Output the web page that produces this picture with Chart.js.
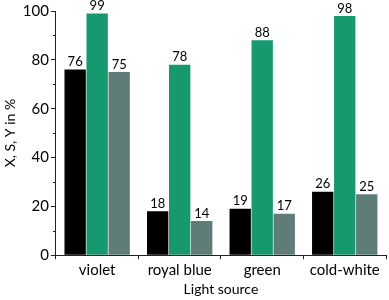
<!DOCTYPE html>
<html>
<head>
<meta charset="utf-8">
<script src="https://cdn.jsdelivr.net/npm/chart.js@4/dist/chart.umd.min.js"></script>
<style>
  html, body { margin: 0; padding: 0; background: #fff; }
  #wrap { width: 389px; height: 300px; }
</style>
</head>
<body>
<div id="wrap"><canvas id="myChart"></canvas></div>
<script>
const categories = ['violet', 'royal blue', 'green', 'cold-white'];
const valuesX = [76, 18, 19, 26];
const valuesS = [99, 78, 88, 98];
const valuesY = [75, 14, 17, 25];
const yTicks = [0, 20, 40, 60, 80, 100];
const yMinorTicks = [10, 30, 50, 70, 90];

const fontFamily = 'Lato, "Open Sans", sans-serif';

// value labels above each bar
const barLabels = {
  id: 'barLabels',
  afterDatasetsDraw(chart) {
    const ctx = chart.ctx;
    ctx.save();
    ctx.font = '13px ' + fontFamily;
    ctx.fillStyle = '#000';
    ctx.textAlign = 'center';
    ctx.textBaseline = 'bottom';
    chart.data.datasets.forEach((ds, i) => {
      chart.getDatasetMeta(i).data.forEach((bar, j) => {
        ctx.fillText(ds.data[j], bar.x, bar.y - 1);
      });
    });
    ctx.restore();
  }
};

// short minor ticks on the y axis
const minorTicks = {
  id: 'minorTicks',
  afterDraw(chart) {
    const ctx = chart.ctx;
    const y = chart.scales.y;
    ctx.save();
    ctx.strokeStyle = '#222';
    ctx.lineWidth = 1;
    yMinorTicks.forEach(v => {
      const py = Math.round(y.getPixelForValue(v)) + 0.5;
      ctx.beginPath();
      ctx.moveTo(y.right - 3, py);
      ctx.lineTo(y.right, py);
      ctx.stroke();
    });
    ctx.restore();
  }
};

const ctx = document.getElementById('myChart');

new Chart(ctx, {
  type: 'bar',
  data: {
    labels: categories,
    datasets: [
      { label: 'X', data: valuesX, backgroundColor: '#000000' },
      { label: 'S', data: valuesS, backgroundColor: '#17996f' },
      { label: 'Y', data: valuesY, backgroundColor: '#5f7c79' }
    ]
  },
  options: {
    responsive: true,
    maintainAspectRatio: false,
    animation: false,
    layout: { padding: { top: 6, right: 3, left: 0, bottom: 0 } },
    datasets: {
      bar: { categoryPercentage: 0.8, barPercentage: 0.97 }
    },
    plugins: {
      legend: { display: false },
      tooltip: { enabled: false }
    },
    scales: {
      x: {
        grid: { display: true, drawOnChartArea: false, tickLength: 4, color: '#222' },
        border: { color: '#222', width: 1 },
        ticks: { color: '#000', font: { family: fontFamily, size: 15 }, padding: 2 },
        title: {
          display: true, text: 'Light source', color: '#000',
          font: { family: fontFamily, size: 14 }, padding: { top: 0, bottom: 2 }
        }
      },
      y: {
        min: 0,
        max: 100,
        afterBuildTicks: axis => { axis.ticks = yTicks.map(v => ({ value: v })); },
        grid: { display: true, drawOnChartArea: false, tickLength: 5, color: '#222' },
        border: { color: '#222', width: 1 },
        ticks: { color: '#000', font: { family: fontFamily, size: 15 }, padding: 2 },
        title: {
          display: true, text: 'X, S, Y in %', color: '#000',
          font: { family: fontFamily, size: 14 }, padding: { top: 2, bottom: 2 }
        }
      }
    }
  },
  plugins: [barLabels, minorTicks]
});
</script>
</body>
</html>
